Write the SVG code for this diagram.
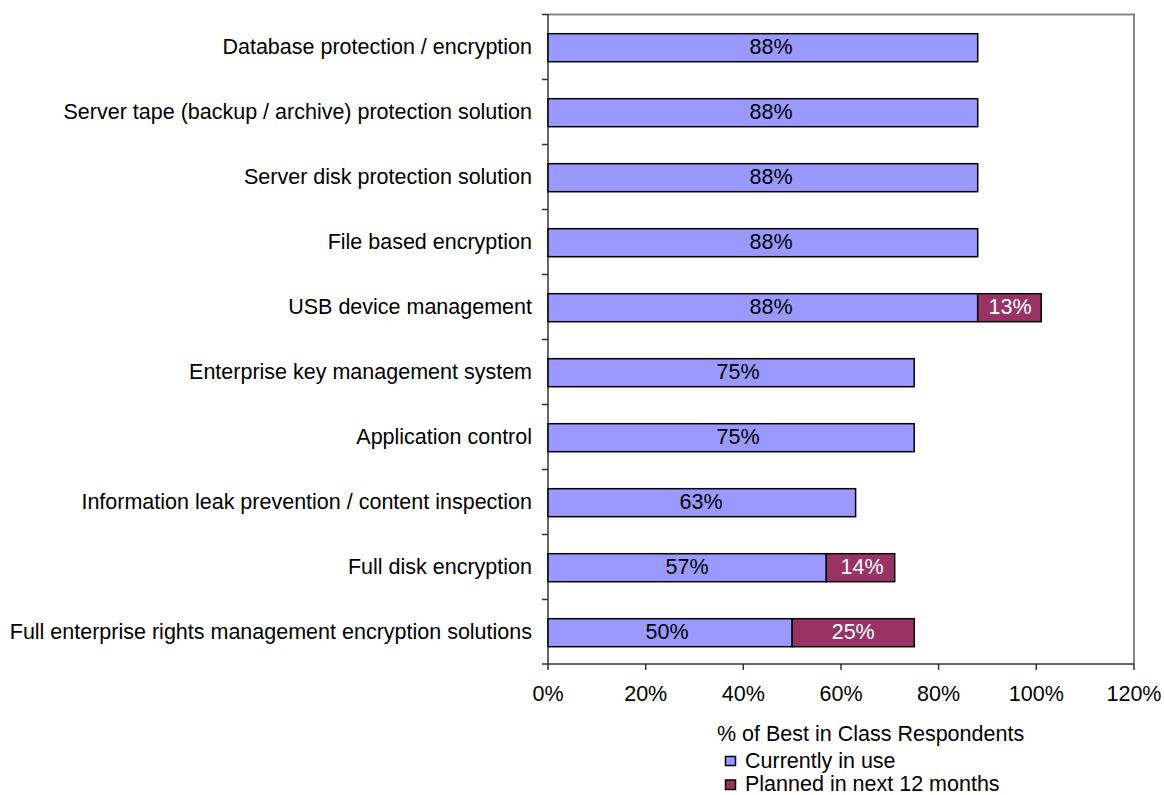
<svg xmlns="http://www.w3.org/2000/svg" width="1164" height="795" viewBox="0 0 1164 795">
<style>
text{font-family:"Liberation Sans",Arial,sans-serif;font-size:21.5px;fill:#000}
.cat{text-anchor:end}
.mid{text-anchor:middle}
.w{fill:#fff}
.cur{fill:#9999FF;stroke:#000;stroke-width:1.5}
.pln{fill:#993366;stroke:#000;stroke-width:1.5}
.ax{stroke:#333;stroke-width:1.5;fill:none}
</style>
<rect width="1164" height="795" fill="#fff"/>
<g id="plot">
<polyline points="548,14.5 1134,14.5 1134,664" fill="none" stroke="#888" stroke-width="2"/>
<g class="ax">
<line x1="548" y1="14" x2="548" y2="664"/>
<line x1="548" y1="664" x2="1134" y2="664"/>
<path d="M542 14.5H548M542 79.5H548M542 144.5H548M542 209.5H548M542 274.5H548M542 339.5H548M542 404.5H548M542 469.5H548M542 534.5H548M542 599.5H548M542 664H548"/>
<path d="M548 664V670M645.7 664V670M743.3 664V670M841 664V670M938.6 664V670M1036.3 664V670M1134 664V670"/>
</g>
<g class="mid">
<text x="548" y="701">0%</text>
<text x="645.7" y="701">20%</text>
<text x="743.3" y="701">40%</text>
<text x="841" y="701">60%</text>
<text x="938.6" y="701">80%</text>
<text x="1036.3" y="701">100%</text>
<text x="1134" y="701">120%</text>
</g>
</g>
<g id="row1"><text class="cat" x="532" y="54">Database protection / encryption</text><rect class="cur" x="548" y="33.7" width="429.7" height="28"/><text class="mid" x="771" y="54">88%</text></g>
<g id="row2"><text class="cat" x="532" y="119">Server tape (backup / archive) protection solution</text><rect class="cur" x="548" y="98.7" width="429.7" height="28"/><text class="mid" x="771" y="119">88%</text></g>
<g id="row3"><text class="cat" x="532" y="184">Server disk protection solution</text><rect class="cur" x="548" y="163.7" width="429.7" height="28"/><text class="mid" x="771" y="184">88%</text></g>
<g id="row4"><text class="cat" x="532" y="249">File based encryption</text><rect class="cur" x="548" y="228.7" width="429.7" height="28"/><text class="mid" x="771" y="249">88%</text></g>
<g id="row5"><text class="cat" x="532" y="314">USB device management</text><rect class="cur" x="548" y="293.7" width="429.7" height="28"/><rect class="pln" x="977.7" y="293.7" width="63.5" height="28"/><text class="mid" x="771" y="314">88%</text><text class="mid w" x="1010" y="314">13%</text></g>
<g id="row6"><text class="cat" x="532" y="379">Enterprise key management system</text><rect class="cur" x="548" y="358.7" width="366.2" height="28"/><text class="mid" x="738" y="379">75%</text></g>
<g id="row7"><text class="cat" x="532" y="444">Application control</text><rect class="cur" x="548" y="423.7" width="366.2" height="28"/><text class="mid" x="738" y="444">75%</text></g>
<g id="row8"><text class="cat" x="532" y="509">Information leak prevention / content inspection</text><rect class="cur" x="548" y="488.7" width="307.6" height="28"/><text class="mid" x="701" y="509">63%</text></g>
<g id="row9"><text class="cat" x="532" y="574">Full disk encryption</text><rect class="cur" x="548" y="553.7" width="278.3" height="28"/><rect class="pln" x="826.3" y="553.7" width="68.4" height="28"/><text class="mid" x="687" y="574">57%</text><text class="mid w" x="862" y="574">14%</text></g>
<g id="row10"><text class="cat" x="532" y="639">Full enterprise rights management encryption solutions</text><rect class="cur" x="548" y="618.7" width="244.2" height="28"/><rect class="pln" x="792.2" y="618.7" width="122.1" height="28"/><text class="mid" x="667" y="639">50%</text><text class="mid w" x="853.2" y="639">25%</text></g>
<g id="legend">
<text x="717" y="741">% of Best in Class Respondents</text>
<rect class="cur" x="725.5" y="756.5" width="10" height="9" stroke-width="1.2"/>
<text x="745" y="768">Currently in use</text>
<rect class="pln" x="725.5" y="780" width="10" height="9.5" stroke-width="1.2"/>
<text x="745" y="791">Planned in next 12 months</text>
</g>
</svg>
